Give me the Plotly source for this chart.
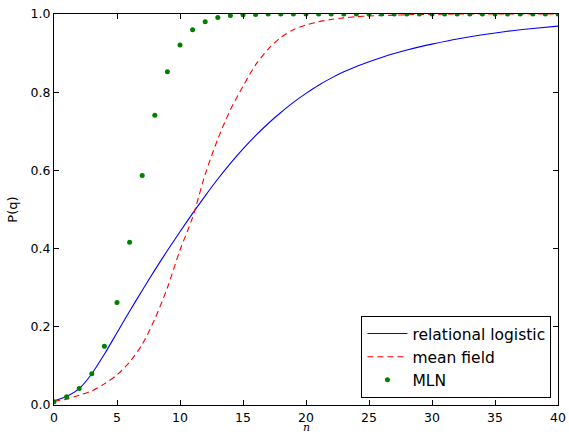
import plotly.graph_objects as go

n_curve = [0, 1, 2, 3, 4, 5, 6, 7, 8, 9, 10, 11, 12, 13, 14, 15, 16, 17, 18, 19, 20,
           21, 22, 23, 24, 25, 26, 27, 28, 29, 30, 32, 34, 36, 38, 40]
relational_logistic = [0.011, 0.022, 0.042, 0.08, 0.13, 0.185, 0.24, 0.293, 0.345, 0.395, 0.443,
                       0.49, 0.535, 0.578, 0.618, 0.655, 0.689, 0.72, 0.748, 0.774, 0.797,
                       0.818, 0.836, 0.852, 0.866, 0.878, 0.889, 0.899, 0.908, 0.916, 0.923,
                       0.936, 0.947, 0.956, 0.963, 0.969]
mean_field = [0.01, 0.015, 0.025, 0.036, 0.054, 0.077, 0.11, 0.155, 0.22, 0.30, 0.396,
              0.48, 0.59, 0.68, 0.755, 0.815, 0.87, 0.91, 0.94, 0.96, 0.972,
              0.98, 0.986, 0.99, 0.993, 0.995, 0.996, 0.997, 0.998, 0.999, 0.999,
              1.0, 1.0, 1.0, 1.0, 1.0]

n_mln = list(range(0, 41))
mln = [0.008, 0.021, 0.042, 0.08, 0.15, 0.262, 0.416, 0.587, 0.741, 0.852, 0.921,
       0.96, 0.98, 0.991, 0.996, 0.998, 0.999, 1.0, 1.0, 1.0, 1.0,
       1.0, 1.0, 1.0, 1.0, 1.0, 1.0, 1.0, 1.0, 1.0, 1.0,
       1.0, 1.0, 1.0, 1.0, 1.0, 1.0, 1.0, 1.0, 1.0, 1.0]

x_ticks = [0, 5, 10, 15, 20, 25, 30, 35, 40]
y_ticks = [0.0, 0.2, 0.4, 0.6, 0.8, 1.0]
y_tick_labels = ["0.0", "0.2", "0.4", "0.6", "0.8", "1.0"]

fig = go.Figure()
fig.add_trace(go.Scatter(x=n_curve, y=relational_logistic, mode="lines", name="relational logistic",
                         line=dict(color="#0000ff", width=1.1, shape="spline", smoothing=0.8)))
fig.add_trace(go.Scatter(x=n_curve, y=mean_field, mode="lines", name="mean field",
                         line=dict(color="#ff0000", width=1.1, dash="6px,4px", shape="spline", smoothing=0.8)))
fig.add_trace(go.Scatter(x=n_mln, y=mln, mode="markers", name="MLN",
                         marker=dict(color="#008000", size=5)))

axis_common = dict(showline=True, linecolor="black", linewidth=1, mirror="ticks",
                   ticks="inside", ticklen=5, tickcolor="black", showgrid=False, zeroline=False,
                   automargin=False,
                   tickfont=dict(family="DejaVu Sans", size=12.5, color="black"))

fig.update_xaxes(range=[0, 40], tickvals=x_ticks, ticklabelstandoff=1, **axis_common)
fig.update_yaxes(range=[0, 1], tickvals=y_ticks, ticktext=y_tick_labels,
                 title=dict(text="P(q)", standoff=10, font=dict(family="DejaVu Sans", size=13, color="black")),
                 **axis_common)

fig.add_annotation(text="<i>n</i>", xref="paper", yref="paper", x=0.5, y=0,
                   xanchor="center", yanchor="middle", yshift=-22, showarrow=False,
                   font=dict(family="DejaVu Serif", size=11, color="black"))

fig.update_layout(
    width=569, height=432,
    margin=dict(l=54, r=11, t=14, b=27, autoexpand=False),
    plot_bgcolor="white", paper_bgcolor="white",
    font=dict(family="DejaVu Sans", size=13, color="black"),
    legend=dict(x=0.987, y=0.018, xanchor="right", yanchor="bottom",
                bgcolor="white", bordercolor="black", borderwidth=1, itemwidth=40,
                font=dict(family="DejaVu Sans", size=15.5), tracegroupgap=0),
    showlegend=True,
)

fig.write_html("out.html", config={"displayModeBar": False},
               post_script="document.body.style.margin='0px';document.body.style.overflow='hidden';")
